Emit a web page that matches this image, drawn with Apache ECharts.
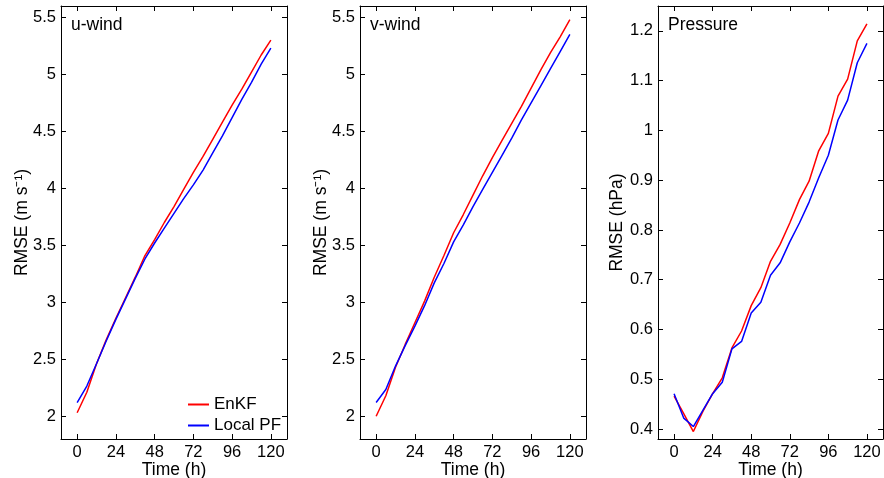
<!DOCTYPE html>
<html>
<head>
<meta charset="utf-8">
<script src="https://cdn.jsdelivr.net/npm/echarts@6/dist/echarts.min.js"></script>
<style>html,body{margin:0;padding:0;background:#fff}#c{width:884px;height:478px}</style>
</head>
<body>
<div id="c"></div>
<script>
const hours = [0,6,12,18,24,30,36,42,48,54,60,66,72,78,84,90,96,102,108,114,120];
const uEnKF = [2.03,2.21,2.46,2.67,2.86,3.04,3.22,3.41,3.55,3.70,3.84,3.99,4.14,4.28,4.43,4.58,4.73,4.87,5.02,5.17,5.30];
const uPF   = [2.12,2.265,2.46,2.66,2.85,3.03,3.21,3.38,3.52,3.65,3.78,3.91,4.03,4.16,4.31,4.46,4.62,4.78,4.93,5.09,5.23];
const vEnKF = [2.00,2.18,2.43,2.63,2.82,3.01,3.22,3.41,3.61,3.77,3.94,4.11,4.27,4.42,4.57,4.72,4.88,5.04,5.19,5.33,5.48];
const vPF   = [2.12,2.235,2.44,2.62,2.79,2.97,3.17,3.34,3.53,3.68,3.84,3.99,4.14,4.29,4.44,4.60,4.75,4.90,5.05,5.20,5.35];
const pEnKF = [0.466,0.431,0.395,0.436,0.471,0.503,0.563,0.597,0.648,0.684,0.737,0.771,0.814,0.861,0.898,0.959,0.994,1.069,1.103,1.180,1.214];
const pPF   = [0.471,0.422,0.405,0.438,0.471,0.494,0.561,0.576,0.633,0.655,0.709,0.734,0.776,0.814,0.856,0.905,0.950,1.021,1.061,1.136,1.175];
const hourTicks = [0,24,48,72,96,120];
const windTicks = [2,2.5,3,3.5,4,4.5,5,5.5];
const presTicks = [0.4,0.5,0.6,0.7,0.8,0.9,1.0,1.1,1.2];
const panelTitles = ['u-wind','v-wind','Pressure'];
const yNames = ['RMSE (m s\u207B\u00B9)','RMSE (m s\u207B\u00B9)','RMSE (hPa)'];
const seriesNames = ['EnKF','Local PF'];

const font = '"Liberation Sans", Arial, Helvetica, sans-serif';
const grids = [
  {left:61, top:6, width:226, height:433, outerBoundsMode:'none', containLabel:false},
  {left:360, top:6, width:226, height:433, outerBoundsMode:'none', containLabel:false},
  {left:658, top:6, width:225, height:433, outerBoundsMode:'none', containLabel:false}
];
const yRanges = [[1.8,5.6],[1.8,5.6],[0.38,1.25]];
const yTicks = [windTicks, windTicks, presTicks];
const data = [[uEnKF,uPF],[vEnKF,vPF],[pEnKF,pPF]];
const colors = ['#ff0000','#0000ff'];

const xAxis = [], yAxis = [], series = [], title = [];
const lineStyle = {color:'#000', width:1};
grids.forEach((g,i)=>{
  xAxis.push({type:'value', gridIndex:i, position:'bottom', min:-10, max:130,
    axisLine:{show:true, onZero:false, lineStyle}, splitLine:{show:false},
    axisTick:{show:true, inside:true, length:5, lineStyle, customValues:hourTicks},
    axisLabel:{show:true, color:'#000', fontSize:16.5, fontFamily:font, margin:5, customValues:hourTicks},
    name:'Time (h)', nameLocation:'middle', nameGap:22, nameMoveOverlap:false,
    nameTextStyle:{color:'#000', fontSize:17.5, fontFamily:font}});
  xAxis.push({type:'value', gridIndex:i, position:'top', min:-10, max:130,
    axisLine:{show:true, onZero:false, lineStyle}, splitLine:{show:false},
    axisTick:{show:true, inside:true, length:5, lineStyle, customValues:hourTicks},
    axisLabel:{show:false}});
  yAxis.push({type:'value', gridIndex:i, position:'left', min:yRanges[i][0], max:yRanges[i][1],
    axisLine:{show:true, onZero:false, lineStyle}, splitLine:{show:false},
    axisTick:{show:true, inside:true, length:5, lineStyle, customValues:yTicks[i]},
    axisLabel:{show:true, color:'#000', fontSize:16.5, fontFamily:font, margin:5, customValues:yTicks[i]},
    name:yNames[i], nameLocation:'middle', nameGap: i===2 ? 32 : 30, nameMoveOverlap:false,
    nameTextStyle:{color:'#000', fontSize:17.5, fontFamily:font}});
  yAxis.push({type:'value', gridIndex:i, position:'right', min:yRanges[i][0], max:yRanges[i][1],
    axisLine:{show:true, onZero:false, lineStyle}, splitLine:{show:false},
    axisTick:{show:true, inside:true, length:5, lineStyle, customValues:yTicks[i]},
    axisLabel:{show:false}});
  data[i].forEach((vals,k)=>{
    series.push({type:'line', name:seriesNames[k], xAxisIndex:2*i, yAxisIndex:2*i,
      data:hours.map((h,j)=>[h,vals[j]]), showSymbol:false, symbol:'none', smooth:false,
      lineStyle:{color:colors[k], width:1.5}, itemStyle:{color:colors[k]}, silent:true, animation:false});
  });
  title.push({text:panelTitles[i], left:g.left+10, top:16, padding:0,
    textStyle:{color:'#000', fontSize:17.5, fontWeight:'normal', fontFamily:font}});
});

const chart = echarts.init(document.getElementById('c'), null, {renderer:'canvas'});
chart.setOption({
  animation:false,
  backgroundColor:'#fff',
  title,
  grid:grids,
  xAxis, yAxis, series,
  legend:{data:seriesNames, orient:'vertical', left:188, top:396, padding:0, itemGap:4,
    itemWidth:21, itemHeight:2, icon:'rect',
    textStyle:{color:'#000', fontSize:17, fontFamily:font}}
});
</script>
</body>
</html>
